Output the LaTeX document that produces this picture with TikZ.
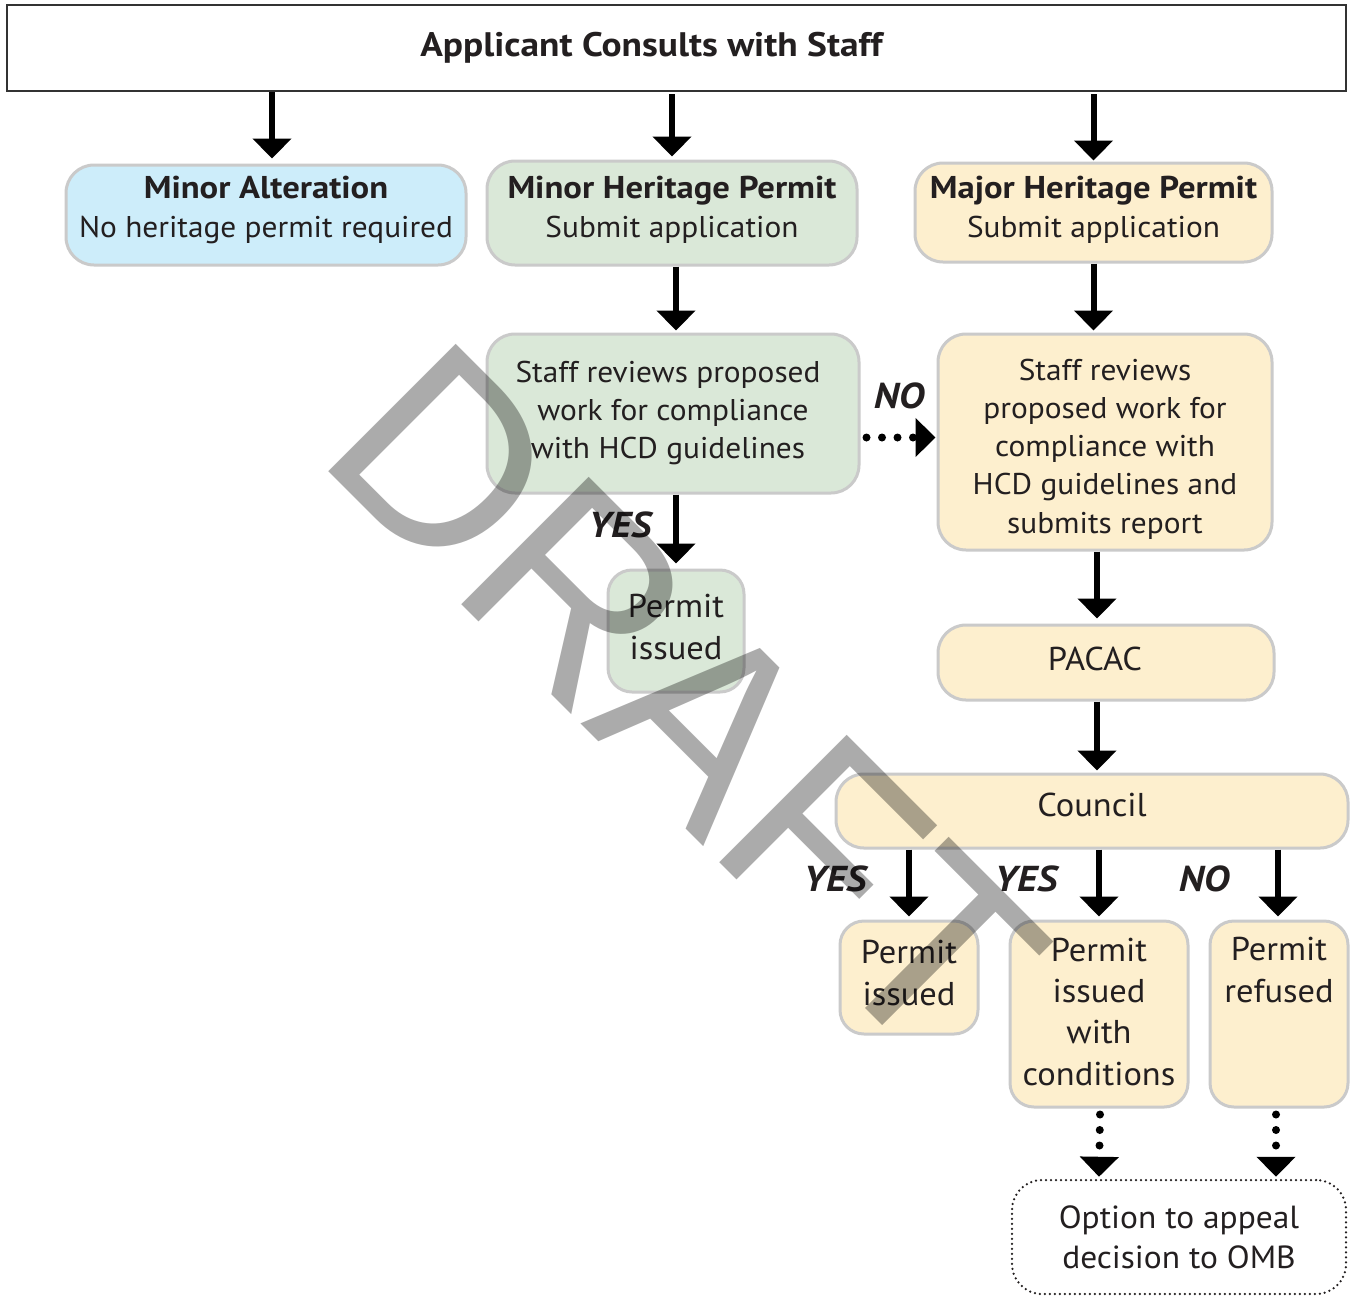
\documentclass[tikz,border=0pt]{standalone}
\usepackage{fontspec}
\setmainfont{PT Sans}[FakeStretch=1.045]
\newfontfamily\boldf{PT Sans}[FakeStretch=1.1]
\newfontfamily\wmfont{Liberation Sans}
\usetikzlibrary{arrows.meta,calc}
\newcommand{\fsz}[2]{\fontsize{#1}{#2}\selectfont}
\newcommand{\hd}[1]{{\boldf\bfseries\fontsize{31.5}{39}\selectfont #1}}
\definecolor{txtc}{HTML}{231F20}
\definecolor{bordc}{HTML}{CACACA}
\definecolor{bluef}{HTML}{CDEDFA}
\definecolor{greenf}{HTML}{DAE8D8}
\definecolor{yellf}{HTML}{FDEFCE}
\begin{document}
\begin{tikzpicture}[x=1pt,y=-1pt,
  box/.style={draw=bordc, line width=3pt, rounded corners=28pt, align=center,
    text=txtc, inner sep=0pt, font=\fsz{30}{39}},
  bluebox/.style={box, fill=bluef},
  greenbox/.style={box, fill=greenf},
  yellbox/.style={box, fill=yellf},
  bl/.style 2 args={text height=#1pt, text depth=#2pt},
  arr/.style={line width=6pt, -{Triangle[width=38pt,length=20pt]}},
  darr/.style={line width=8pt, line cap=round, dash pattern=on 0pt off 15.5pt,
    -{Triangle[width=38pt,length=20pt]}},
  lbl/.style={font=\boldf\fsz{36}{40}\bfseries\itshape, text=txtc, inner sep=0pt}
]
\useasboundingbox (0,0) rectangle (1351,1296);
\fill[white] (0,0) rectangle (1351,1296);

% top box
\node[draw=black!80, line width=2pt, minimum width=1339pt, minimum height=86pt,
  inner sep=0pt, text=txtc, font=\boldf\fsz{34}{38}\bfseries] (top) at (676.5,48)
  {Applicant Consults with Staff\hspace*{50pt}};

% second row
\node[bluebox, bl={44}{0}, minimum width=400pt, minimum height=100pt] (minA) at (266,215)
  {\hd{Minor Alteration}\\No heritage permit required};
\node[greenbox, bl={48}{0}, minimum width=370pt, minimum height=104pt] (minH) at (672,213)
  {\hd{Minor Heritage Permit}\\Submit application};
\node[yellbox, bl={49}{0}, minimum width=357pt, minimum height=99pt] (majH) at (1093.5,212.5)
  {\hd{Major Heritage Permit}\\Submit application};

% staff reviews
\node[greenbox, bl={89}{0}, minimum width=372pt, minimum height=159pt, font=\fsz{30}{38}] (srG) at (673,413.5)
  {Staff reviews proposed\hspace*{10pt}\\work for compliance\hspace*{10pt}\\with HCD guidelines\hspace*{10pt}};
\node[yellbox, bl={182}{0}, minimum width=334pt, minimum height=216pt, font=\fsz{30}{38.2}] (srY) at (1105,442)
  {Staff reviews\\proposed work for\\compliance with\\HCD guidelines and\\submits report};

\node[greenbox, bl={56}{0}, rounded corners=24pt, minimum width=136pt, minimum height=122pt, font=\fsz{33}{42}] (piG) at (676,631)
  {Permit\\issued};

\node[yellbox, bl={15}{0}, minimum width=336pt, minimum height=75pt, font=\fsz{33}{38}] (pacac) at (1106,662.5) {PACAC\hspace*{22pt}};
\node[yellbox, bl={10}{0}, minimum width=512pt, minimum height=74pt, font=\fsz{33}{38}] (council) at (1092,811) {Council};

\node[yellbox, bl={55}{0}, rounded corners=24pt, minimum width=138pt, minimum height=113pt, font=\fsz{33}{42}] (pi2) at (909,977.5)
  {Permit\\issued};
\node[yellbox, bl={142}{0}, rounded corners=24pt, minimum width=178pt, minimum height=186pt, font=\fsz{33}{41.3}] (pic) at (1099,1014)
  {Permit\\issued\\with\\conditions};
\node[yellbox, bl={0}{24}, rounded corners=24pt, minimum width=138pt, minimum height=186pt, font=\fsz{33}{41.3}] (pr) at (1279,1014)
  {Permit\\refused};

\node[draw=txtc, line width=2.5pt, line cap=round, dash pattern=on 0pt off 5pt,
  rounded corners=30pt, fill=white, minimum width=334pt, minimum height=114pt,
  align=center, inner sep=0pt, text=txtc, font=\fsz{32}{40}, bl={63}{0}] (opt) at (1179,1237)
  {Option to appeal\\decision to OMB};

% connectors
\draw[arr] (top.south -| 272,0) -- ([xshift=6pt,yshift=5pt]minA.north);
\draw[arr] ([yshift=-2pt]top.south -| minH.north) -- ([yshift=3pt]minH.north);
\draw[arr] ([yshift=-2pt]top.south -| majH.north) -- ([yshift=1pt]majH.north);
\draw[arr] ([xshift=4pt]minH.south) -- ([xshift=3pt,yshift=2pt]srG.north);
\draw[arr] (majH.south) -- ([yshift=2pt]srY.north -| majH.south);
\draw[darr] ([xshift=6pt,yshift=-24pt]srG.east) -- ([xshift=-1pt,yshift=-24pt]srG.east -| srY.west);
\draw[arr] (srG.south -| piG.north) -- ([yshift=5pt]piG.north);
\draw[arr] ([xshift=-8pt]srY.south) -- ([xshift=-9pt,yshift=5pt]pacac.north);
\draw[arr] ([xshift=-9pt]pacac.south) -- ([xshift=5pt,yshift=2pt]council.north);
\draw[arr] (council.south -| pi2.north) -- ([yshift=3pt]pi2.north);
\draw[arr] (council.south -| pic.north) -- ([yshift=3pt]pic.north);
\draw[arr] ([xshift=-1pt]council.south -| pr.north) -- ([xshift=-1pt,yshift=3pt]pr.north);
\draw[darr] ([xshift=1pt,yshift=-6pt]pic.south) -- ([yshift=2pt]opt.north -| pic.south);
\draw[darr] ([xshift=-3pt,yshift=-6pt]pr.south) -- ([xshift=-3pt,yshift=2pt]opt.north -| pr.south);

% labels
\node[lbl] (no1) at (899,396) {NO};
\node[lbl] (yes1) at (620,525) {YES};
\node[lbl] (yes2) at (835,879) {YES};
\node[lbl] (yes3) at (1026,879) {YES};
\node[lbl] (no2) at (1204,879) {NO};

% watermark
\node[rotate=-45, anchor=base west, inner sep=0pt, text=black, text opacity=0.33,
  font=\wmfont\fontsize{262}{262}\selectfont] (wm) at (313,456) {DRAFT};
\end{tikzpicture}
\end{document}
